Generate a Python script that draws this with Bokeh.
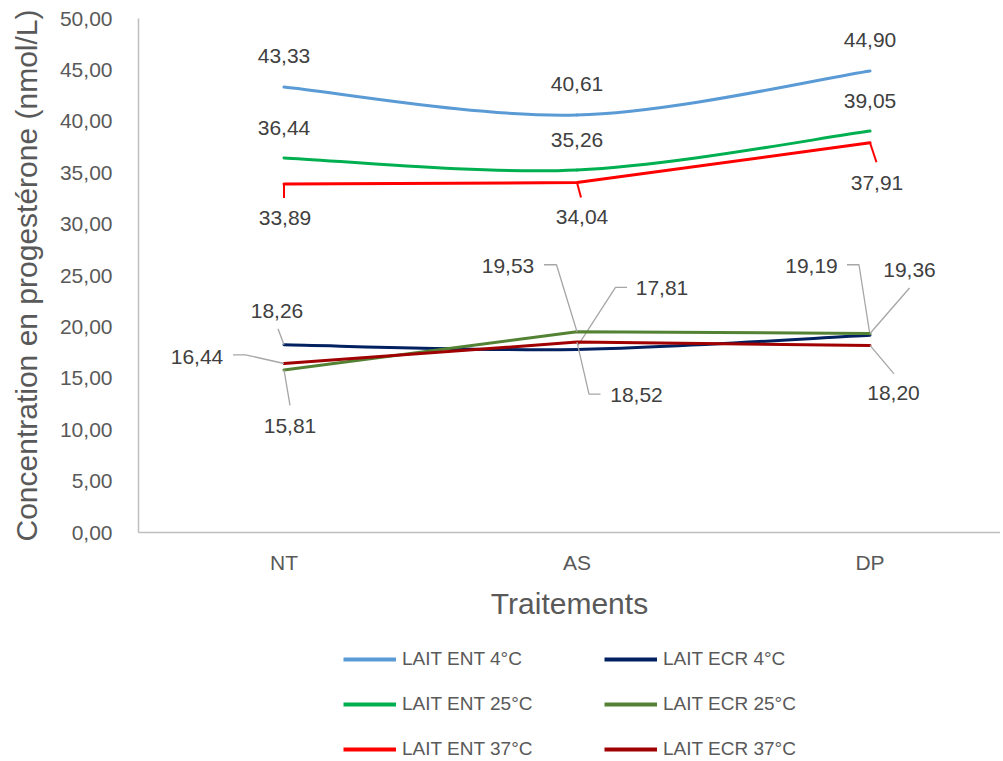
from bokeh.plotting import figure
from bokeh.layouts import column
from bokeh.models import Range1d, FixedTicker, CustomJSTickFormatter, Legend, LegendItem
from bokeh.core.properties import value
from bokeh.embed import file_html
from bokeh.resources import INLINE

# data
categories = ["NT", "AS", "DP"]

ent_4 = [43.33, 40.61, 44.90]
ent_25 = [36.44, 35.26, 39.05]
ent_37 = [33.89, 34.04, 37.91]
ecr_4 = [18.26, 17.81, 19.19]
ecr_25 = [15.81, 19.53, 19.36]
ecr_37 = [16.44, 18.52, 18.20]

y_ticks = [0, 5, 10, 15, 20, 25, 30, 35, 40, 45, 50]

FONT_NAME = "Liberation Sans"
W = 1000
H_MAIN, H_LEG = 632, 128
LEFT, TOP, BOTTOM = 138, 18, 100
PX_X = 293.0                           # pixels per category
PX_Y = (H_MAIN - TOP - BOTTOM) / 50.0  # pixels per unit
X0 = -145.5 / PX_X

# series styling: (name, values, colour, smoothed, label offsets px, leader polylines px, leader colour)
series = [
    ("LAIT ENT 4°C", ent_4, "#5B9BD5", True,
     [(0, -31), (0, -31), (0, -31)], [None, None, None], None),
    ("LAIT ENT 25°C", ent_25, "#00B050", True,
     [(0, -30), (0, -30), (0, -30)], [None, None, None], None),
    ("LAIT ENT 37°C", ent_37, "#FF0000", False,
     [(1, 34), (5, 34), (7, 40)],
     [[(0, 0), (0, 14)], [(0, 0), (4, 15)], [(0, 0), (6.5, 19.5)]], "#FF0000"),
    ("LAIT ECR 4°C", ecr_4, "#002060", True,
     [(-7, -34), (85, -61), (-58.5, -69)],
     [[(0, 0), (-6, -16)], [(1, -4), (38.5, -62), (50, -62)], [(0, 0), (-11, -70.5), (-23, -70.5)]], "#A6A6A6"),
    ("LAIT ECR 25°C", ecr_25, "#548235", False,
     [(6, 56), (-69, -66), (39.5, -63)],
     [[(0, 0), (6, 35.5)], [(0, 0), (-20.5, -67), (-33, -67)], [(0, 0), (39.5, -45.5)]], "#A6A6A6"),
    ("LAIT ECR 37°C", ecr_37, "#A00000", False,
     [(-87, -6), (59.5, 53), (23.5, 48)],
     [[(0, 0), (-38.5, -8.7), (-51, -8.7)], [(0, 0), (12, 52), (23.5, 52)], [(0, 0), (24, 28.5)]], "#A6A6A6"),
]

p = figure(width=W, height=H_MAIN, output_backend="svg", toolbar_location=None,
           x_range=Range1d(X0, X0 + (W - LEFT) / PX_X), y_range=Range1d(0, 50),
           min_border_left=LEFT, min_border_right=0, min_border_top=TOP,
           min_border_bottom=BOTTOM)
p.outline_line_color = None
p.grid.visible = False

for ax in (p.xaxis[0], p.yaxis[0]):
    ax.axis_line_color = "#BFBFBF"
    ax.axis_line_width = 1.5
    ax.major_tick_line_color = None
    ax.minor_tick_line_color = None
    ax.major_label_text_font = FONT_NAME
    ax.major_label_text_font_size = "21px"
    ax.major_label_text_color = "#595959"
    ax.axis_label_text_font = FONT_NAME
    ax.axis_label_text_font_size = "30px"
    ax.axis_label_text_font_style = "normal"
    ax.axis_label_text_color = "#595959"

p.xaxis.ticker = FixedTicker(ticks=list(range(len(categories))))
p.xaxis.major_label_overrides = {i: c for i, c in enumerate(categories)}
p.xaxis.major_label_standoff = 12
p.xaxis.axis_label = "Traitements"
p.xaxis.axis_label_standoff = 10

p.yaxis.ticker = FixedTicker(ticks=y_ticks)
p.yaxis.formatter = CustomJSTickFormatter(code="return tick.toFixed(2).replace('.', ',');")
p.yaxis.major_label_standoff = 20
p.yaxis.axis_label = "Concentration en progestérone (nmol/L)"
p.yaxis.axis_label_standoff = 14

xs = list(range(len(categories)))
for name, vals, color, smooth, lab_off, leaders, lead_color in series:
    if smooth:
        n = len(vals)
        b = dict(x0=[], y0=[], x1=[], y1=[], cx0=[], cy0=[], cx1=[], cy1=[])
        for i in range(n - 1):
            ip, i2 = max(i - 1, 0), min(i + 2, n - 1)
            b["x0"].append(xs[i]); b["y0"].append(vals[i])
            b["x1"].append(xs[i + 1]); b["y1"].append(vals[i + 1])
            b["cx0"].append(xs[i] + (xs[i + 1] - xs[ip]) / 6)
            b["cy0"].append(vals[i] + (vals[i + 1] - vals[ip]) / 6)
            b["cx1"].append(xs[i + 1] - (xs[i2] - xs[i]) / 6)
            b["cy1"].append(vals[i + 1] - (vals[i2] - vals[i]) / 6)
        p.bezier(source=b, x0="x0", y0="y0", x1="x1", y1="y1", cx0="cx0", cy0="cy0",
                 cx1="cx1", cy1="cy1", line_color=color, line_width=3, line_cap="round")
    else:
        p.line(xs, vals, line_color=color, line_width=3, line_cap="round",
               line_join="round")

    # leader lines
    lx, ly = [], []
    for i, lead in enumerate(leaders):
        if lead is None:
            continue
        lx.append([xs[i] + dx / PX_X for dx, dy in lead])
        ly.append([vals[i] - dy / PX_Y for dx, dy in lead])
    if lx:
        p.multi_line(lx, ly, line_color=lead_color,
                     line_width=2 if lead_color == color else 1.3)

    p.text(x=xs, y=vals, text=[f"{v:.2f}".replace(".", ",") for v in vals],
           x_offset=[o[0] for o in lab_off], y_offset=[o[1] for o in lab_off],
           text_align="center", text_baseline="middle", text_font=value(FONT_NAME),
           text_font_size="21px", text_color="#404040")

# legend strip under the chart: ENT series on the left, ECR series on the right.
# the strip's y range stops at 1, so the series lines drawn here stay out of view
# and only their legend swatches show.
leg = figure(width=W, height=H_LEG, output_backend="svg", toolbar_location=None,
             x_range=Range1d(0, 1), y_range=Range1d(0, 1),
             x_axis_location=None, y_axis_location=None,
             min_border_left=0, min_border_right=0, min_border_top=0, min_border_bottom=0)
leg.outline_line_color = None
leg.grid.visible = False

swatches = {s[0]: leg.line(xs, s[1], line_color=s[2], line_width=4) for s in series}

for names, x in (([s[0] for s in series[:3]], 205), ([s[0] for s in series[3:]], 466)):
    lg = Legend(items=[LegendItem(label=nm, renderers=[swatches[nm]]) for nm in names],
                location=(x, 0), orientation="vertical",
                glyph_width=53, glyph_height=22, label_height=22, label_standoff=6,
                spacing=23, padding=0, margin=0, border_line_color=None,
                background_fill_alpha=0, label_text_font=FONT_NAME,
                label_text_font_size="19px", label_text_color="#595959")
    leg.add_layout(lg, "center")

open("out.html", "w").write(file_html(column(p, leg), INLINE))
